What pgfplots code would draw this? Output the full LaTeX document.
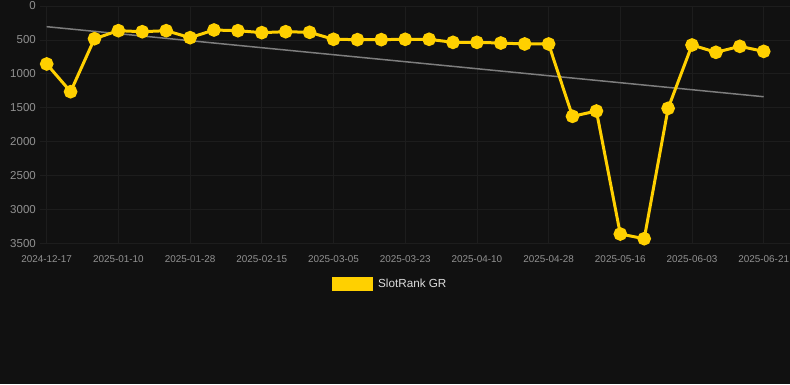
\documentclass[border=0pt]{standalone}
\usepackage{pgfplots}
\pgfplotsset{compat=1.18}
\usepackage{fontspec}
\setmainfont{Liberation Sans}
\definecolor{bg}{RGB}{17,17,17}
\definecolor{gold}{RGB}{255,208,0}
\definecolor{gridc}{RGB}{29,29,29}
\definecolor{tickc}{RGB}{145,145,145}
\definecolor{legc}{RGB}{220,220,220}
\definecolor{trend}{RGB}{125,125,125}
\begin{document}
\begin{tikzpicture}[x=1pt,y=1pt]
\fill[bg] (0,0) rectangle (790,384);
\useasboundingbox (0,0) rectangle (790,384);
\begin{axis}[
  at={(40pt,140.7pt)}, anchor=south west,
  scale only axis, width=750pt, height=237.3pt,
  xmin=-0.28, xmax=31.1, ymin=0, ymax=3500, y dir=reverse,
  axis line style={draw=none},
  major tick length=0pt,
  xtick={0,3,...,30},
  xticklabels={2024-12-17,2025-01-10,2025-01-28,2025-02-15,2025-03-05,2025-03-23,2025-04-10,2025-04-28,2025-05-16,2025-06-03,2025-06-21},
  ytick={0,500,...,3500},
  scaled y ticks=false,
  /pgf/number format/1000 sep={},
  /pgf/number format/assume math mode=true,
  grid=major,
  major grid style={draw=gridc, line width=0.8pt},
  yticklabel style={font=\fontsize{11.5}{13}\selectfont, text=tickc, inner sep=0pt, anchor=east, xshift=-4pt},
  xticklabel style={font=\fontsize{9.9}{12}\selectfont, text=tickc, inner sep=0pt, anchor=center, yshift=-16pt},
  legend style={at={(0.3893,-0.1715)}, anchor=west, draw=none, fill=none, inner sep=0pt, column sep=5pt,
    nodes={inner sep=0pt, text=legc, font=\fontsize{11.7}{14}\selectfont}},
  legend image code/.code={\fill[gold] (0pt,-5.7pt) rectangle (38pt,5.7pt);},
  clip=false,
]
\addplot[trend, line width=1.5pt, forget plot] coordinates {(0,305) (30,1338)};
\addplot[gold, line width=3pt, mark=*, mark size=5.3pt, mark options={fill=gold, draw=none}]
coordinates {
(0,855) (1,1264) (2,482) (3,364) (4,379) (5,364) (6,467) (7,354) (8,364) (9,393)
(10,379) (11,388) (12,491) (13,496) (14,496) (15,491) (16,491) (17,536) (18,536) (19,546)
(20,560) (21,560) (22,1627) (23,1549) (24,3363) (25,3432) (26,1509) (27,575) (28,683) (29,595)
(30,669)
};
\addlegendentry{SlotRank GR}
\end{axis}
\end{tikzpicture}
\end{document}
